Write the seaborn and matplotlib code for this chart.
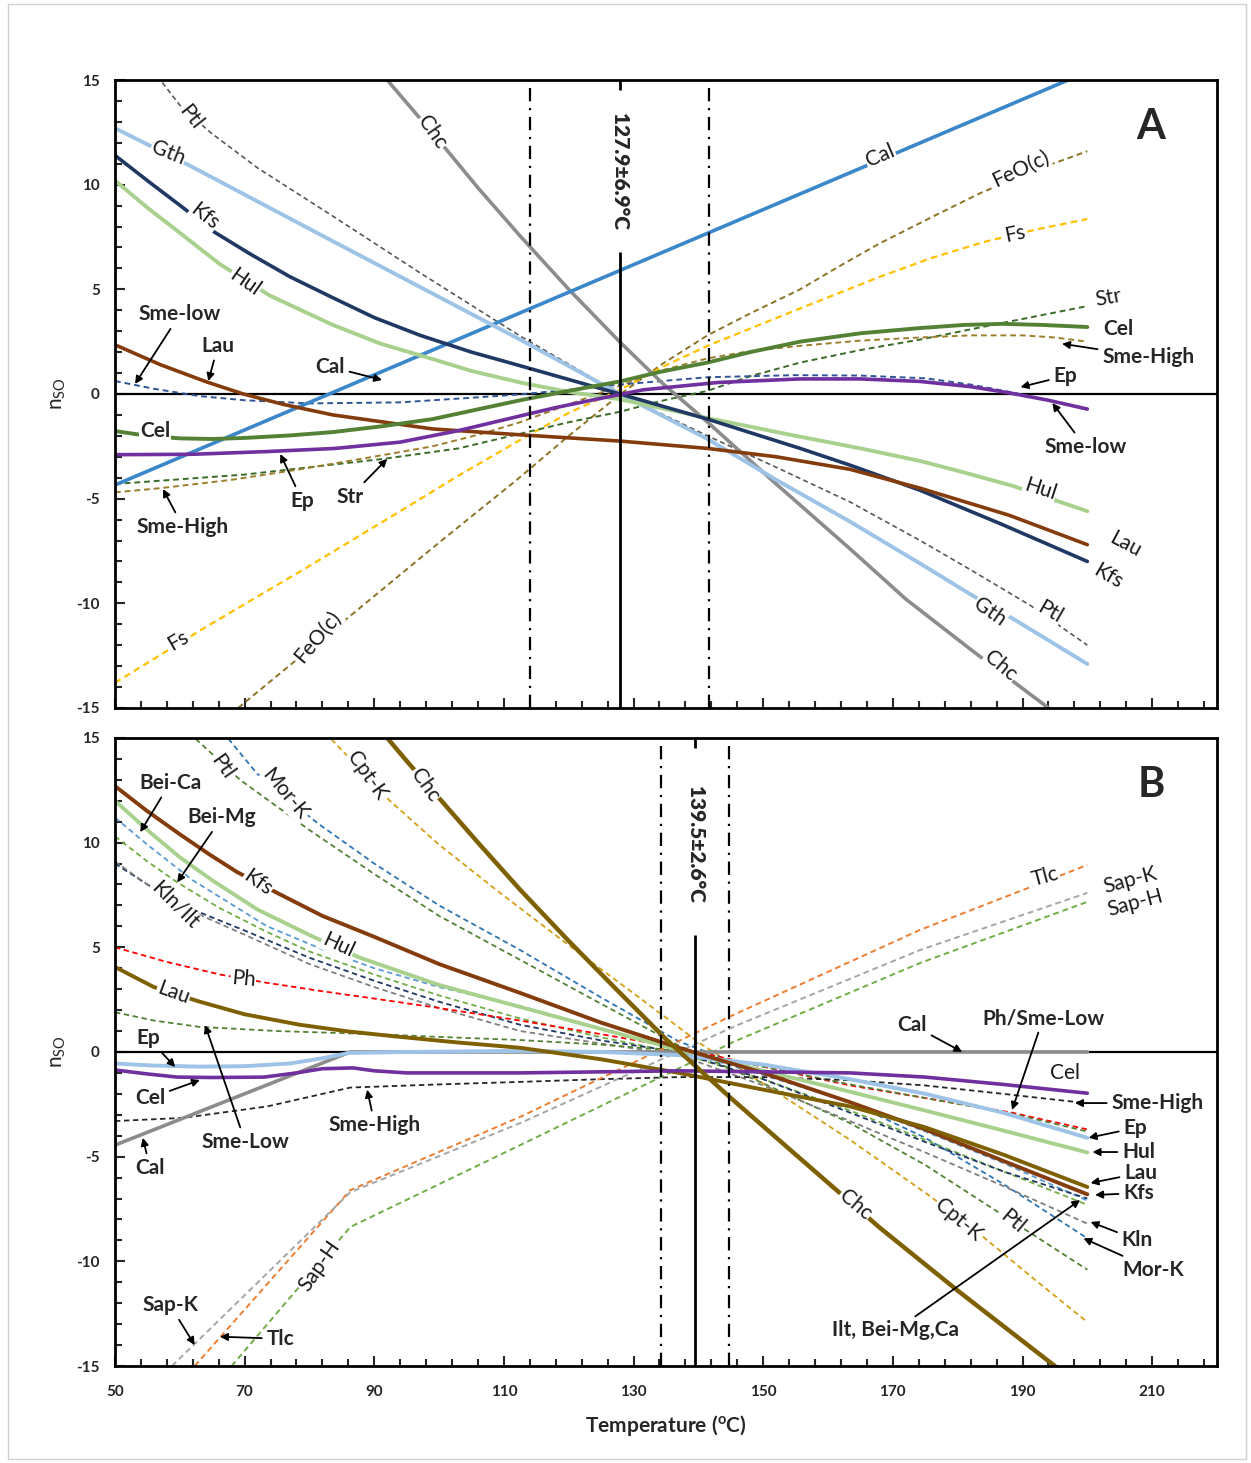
import matplotlib
matplotlib.use('Agg')
import matplotlib.pyplot as plt
from matplotlib.ticker import FixedLocator, MultipleLocator
from matplotlib.patches import Rectangle
import numpy as np
import seaborn as sns

sns.set_style('white')
plt.rcParams['font.family'] = ['Lato', 'DejaVu Sans']
plt.rcParams['axes.unicode_minus'] = False

# ---------------- panel A : (temperature, n_SO) ----------------
a_cal = ([50, 200], [-4.35, 15.39])
a_chc = ([90, 92, 100, 106, 112.5, 120, 127.9, 134.5, 141.4, 152, 163.4, 172, 182.4, 194, 200],
         [15.7, 15, 12.1, 9.85, 7.55, 5.0, 2.48, 0.5, -1.34, -4.3, -7.4, -9.8, -12.3, -15, -16.4])
a_ptl = ([55, 57, 60, 64.7, 72, 83.6, 97, 112.5, 127.9, 141.4, 152, 163.4, 174.2, 182, 191.2, 200],
         [16.3, 15, 13.8, 12.5, 10.8, 8.5, 5.8, 2.77, 0, -2.0, -3.5, -5.16, -7.0, -8.4, -10.1, -12.0])
a_gth = ([50, 61.6, 83.6, 112.5, 127.9, 141.4, 152, 163.4, 174.2, 182.4, 188.6, 200],
         [12.7, 10.9, 7.3, 2.6, 0, -2.15, -4.1, -6.1, -8.1, -9.65, -10.75, -12.9])
a_kfs = ([50, 55.4, 60.5, 65, 70.8, 77, 83.6, 90, 97.1, 105, 112.5, 127.9, 141.4, 155.7, 163.4, 174.2, 186.6, 200],
         [11.4, 10.1, 8.9, 7.8, 6.7, 5.6, 4.6, 3.65, 2.8, 2.0, 1.35, 0, -1.2, -2.6, -3.4, -4.6, -6.2, -8.0])
a_hul = ([50, 55, 60, 66.2, 73.9, 83.6, 91, 99, 105, 112.5, 120, 127.9, 141.4, 155, 165, 174.2, 181, 188.6, 200],
         [10.2, 8.9, 7.7, 6.2, 4.7, 3.3, 2.4, 1.67, 1.1, 0.55, 0.1, -0.25, -1.15, -2.0, -2.6, -3.2, -3.75, -4.4, -5.6])
a_lau = ([50, 57, 64.2, 69.8, 76, 83.6, 99, 112.5, 127.9, 141.4, 152, 163.4, 174.2, 188, 200],
         [2.35, 1.4, 0.57, 0, -0.5, -1.0, -1.67, -1.95, -2.25, -2.6, -3.0, -3.6, -4.5, -5.8, -7.2])
a_smelow = ([50, 56, 63, 70, 80, 94, 104, 112.5, 120, 127.9, 141.4, 155, 165, 175, 182, 188, 194, 200],
            [0.62, 0.25, -0.1, -0.3, -0.45, -0.4, -0.2, -0.02, 0.2, 0.45, 0.8, 0.9, 0.88, 0.75, 0.45, 0.1, -0.3, -0.75])
a_ep = ([50, 62, 73.5, 84, 94, 103, 112.5, 118, 123, 131.5, 143, 155.7, 165, 174.2, 182, 188, 194, 200],
        [-2.9, -2.88, -2.75, -2.6, -2.3, -1.75, -1.05, -0.65, -0.33, 0.2, 0.55, 0.72, 0.72, 0.6, 0.35, 0.05, -0.3, -0.72])
a_cel = ([50, 55, 60, 65, 70, 77, 83.6, 91, 99, 105, 112.5, 120, 127.9, 134, 141.4, 148, 155.7, 165, 174.2, 181, 187, 193, 200],
         [-1.77, -2.0, -2.12, -2.15, -2.1, -1.98, -1.82, -1.55, -1.2, -0.8, -0.3, 0.15, 0.6, 1.05, 1.5, 2.0, 2.5, 2.9, 3.15, 3.3, 3.35, 3.3, 3.2])
a_smehigh = ([50, 57, 68, 78.5, 88, 99, 106, 112.5, 120, 127.9, 134, 141.4, 148, 155.7, 165, 174.2, 182, 190, 195, 200],
             [-4.7, -4.5, -4.1, -3.6, -3.1, -2.5, -1.95, -1.35, -0.5, 0.4, 1.1, 1.7, 2.05, 2.3, 2.55, 2.7, 2.8, 2.8, 2.7, 2.5])
a_str = ([50, 70, 91.4, 103, 112.5, 120, 127.9, 134, 141.4, 148, 155.7, 165, 174.2, 187, 200],
         [-4.3, -3.85, -3.1, -2.6, -1.9, -1.35, -0.85, -0.35, 0.15, 0.85, 1.5, 2.1, 2.6, 3.4, 4.2])
a_feo = ([69, 78, 86.3, 100, 112, 120, 128, 134.5, 141.4, 148, 155.7, 162, 168, 176, 183.5, 192, 200],
         [-15, -12.7, -10.6, -7.1, -4.1, -2.0, 0, 1.45, 2.8, 3.85, 5.0, 6.15, 7.2, 8.45, 9.6, 10.7, 11.6])
a_fs = ([50, 64.2, 79, 94, 103, 112.5, 120, 127.9, 134.5, 141.4, 155, 168, 176, 184, 192, 200],
        [-13.8, -11.1, -8.4, -5.6, -3.9, -2.2, -0.9, 0.2, 1.3, 2.3, 4.0, 5.6, 6.5, 7.26, 7.85, 8.36])

# ---------------- panel B ----------------
b_chc = ([90, 92, 95, 101.2, 106, 112.5, 120, 127, 135.2, 145, 155, 168, 180, 195.4, 200],
         [15.8, 15, 13.9, 11.7, 10.0, 7.75, 5.3, 3.1, 0.55, -2.2, -4.9, -8.4, -11.4, -15.1, -16.2])
b_cptk = ([80, 83.2, 92.4, 100, 109.4, 120, 130, 140.3, 152, 163.4, 175.8, 184, 192, 200],
          [16.3, 15, 12.0, 9.9, 7.6, 5.1, 2.8, 0.4, -1.9, -4.2, -6.9, -8.85, -10.9, -12.9])
b_mork = ([65, 67.4, 71.9, 81.2, 90, 100, 112.5, 125, 137, 150, 163.4, 175, 187, 200],
          [16.0, 15, 13.3, 10.94, 9.0, 7.0, 4.87, 2.6, 0.5, -1.0, -2.4, -4.1, -6.3, -8.9])
b_ptl = ([60, 62.3, 69.3, 80, 90, 100, 112.5, 125, 137, 150, 163.4, 175, 187, 200],
         [16.0, 15, 13.0, 10.6, 8.5, 6.5, 4.4, 2.3, 0.3, -1.5, -3.4, -5.4, -7.8, -10.4])
b_kfs = ([50, 55, 60, 64.5, 68.8, 75, 82, 90, 100, 112.5, 125, 137, 150, 163.4, 175, 187, 200],
         [12.7, 11.5, 10.4, 9.45, 8.6, 7.6, 6.5, 5.5, 4.2, 2.82, 1.4, 0.2, -1.0, -2.4, -3.7, -5.2, -6.8])
b_hul = ([50, 55, 60, 65, 72, 80.6, 87.8, 100, 112.5, 125, 137, 150, 163.4, 175, 187, 200],
         [12.0, 10.6, 9.3, 8.2, 6.8, 5.5, 4.5, 3.2, 2.15, 1.1, 0.1, -0.9, -1.9, -2.8, -3.75, -4.8])
b_beica = ([50, 55, 62, 73.5, 82, 90, 100, 112.5, 125, 137, 150, 163.4, 175, 187, 200],
           [11.2, 9.9, 8.2, 6.0, 4.9, 4.0, 3.1, 2.2, 1.1, 0.1, -1.1, -2.4, -3.8, -5.3, -7.1])
b_beimg = ([50, 55, 59.6, 66, 73, 80, 90, 100, 112.5, 125, 137, 150, 163.4, 175, 187, 200],
           [10.3, 9.1, 8.1, 6.9, 5.8, 4.8, 3.7, 2.7, 1.6, 0.7, -0.05, -1.3, -2.8, -4.2, -5.7, -7.3])
b_ilt = ([50, 55, 62, 70, 80, 90, 100, 112.5, 125, 137, 150, 163.4, 175, 187, 200],
         [9.0, 8.0, 6.8, 5.8, 4.5, 3.4, 2.4, 1.3, 0.55, 0.0, -1.3, -2.9, -4.3, -5.7, -7.0])
b_kln = ([50, 55, 62, 70, 80, 90, 100, 112.5, 125, 137, 150, 163.4, 175, 187, 200],
         [9.1, 8.0, 6.7, 5.6, 4.2, 3.1, 2.1, 1.0, 0.4, -0.15, -1.6, -3.3, -4.8, -6.4, -8.2])
b_ph = ([50, 58, 66.2, 73.5, 82, 90, 100, 112.5, 125, 137, 150, 163.4, 175, 188.4, 200],
        [5.0, 4.3, 3.7, 3.3, 2.9, 2.55, 2.1, 1.5, 0.85, 0.2, -0.7, -1.6, -2.2, -2.9, -3.7])
b_smelow = ([50, 56, 63, 75, 90, 100, 112.5, 125, 137, 150, 163.4, 175, 188.4, 200],
            [1.9, 1.5, 1.2, 1.0, 0.85, 0.72, 0.57, 0.35, 0.05, -0.7, -1.55, -2.2, -2.95, -3.8])
b_lau = ([50, 56, 63.1, 70, 78.5, 86, 94, 103, 112.5, 125, 137, 150, 163.4, 175, 187, 200],
         [4.06, 3.1, 2.4, 1.8, 1.3, 0.98, 0.72, 0.45, 0.2, -0.35, -1.0, -1.8, -2.6, -3.6, -4.9, -6.45])
b_ep = ([50, 56, 63, 70, 77, 82, 86, 95, 112.5, 125, 137, 150, 163.4, 175, 187, 200],
        [-0.55, -0.65, -0.7, -0.68, -0.55, -0.3, -0.05, 0.0, 0.05, 0.0, -0.15, -0.6, -1.3, -2.0, -2.9, -4.1])
b_cel = ([50, 55, 59.6, 65, 73, 78, 82, 86.7, 90, 95, 112.5, 137, 163.4, 175, 187, 200],
         [-0.86, -1.05, -1.2, -1.22, -1.2, -1.0, -0.8, -0.76, -0.9, -1.0, -1.0, -0.9, -1.0, -1.2, -1.55, -1.97])
b_smehigh = ([50, 60.5, 73.5, 86.3, 100, 112.5, 125, 137, 150, 163.4, 175, 187, 200],
             [-3.3, -3.15, -2.6, -1.7, -1.55, -1.43, -1.3, -1.2, -1.2, -1.35, -1.6, -2.0, -2.45])
b_cal = ([50, 86.3, 200], [-4.45, 0, 0])
b_tlc = ([62.3, 86.3, 112.5, 145.4, 174.2, 200], [-15, -6.6, -3.1, 1.77, 5.83, 8.93])
b_sapk = ([58.8, 86.3, 112.5, 145.4, 174.2, 200], [-15, -6.7, -3.4, 1.2, 4.87, 7.6])
b_saph = ([68, 86.3, 112.5, 145.4, 174.2, 200], [-15, -8.36, -4.45, 0.48, 4.25, 7.17])

# estimated temperatures (mean, sigma); dash-dot lines at 2 sigma
temp_a, sig_a = 127.9, 6.9
temp_b, sig_b = 139.5, 2.6

DASH = (0, (3, 2))
a_styles = [
    (a_feo, '#8C7425', 1.4, DASH), (a_fs, '#FFC000', 1.6, DASH),
    (a_str, '#3B6B28', 1.4, DASH), (a_smehigh, '#9C7E2A', 1.4, DASH),
    (a_ptl, '#595959', 1.2, DASH), (a_smelow, '#2F5597', 1.4, DASH),
    (a_chc, '#8C8C8C', 2.6, '-'), (a_cal, '#3A87C9', 2.6, '-'),
    (a_gth, '#9DC3E6', 2.8, '-'), (a_hul, '#A9D18E', 2.8, '-'),
    (a_kfs, '#203864', 2.6, '-'), (a_lau, '#843C0C', 2.6, '-'),
    (a_cel, '#548235', 2.8, '-'), (a_ep, '#7030A0', 2.6, '-'),
]
b_styles = [
    (b_cptk, '#D4A017', 1.3, DASH), (b_mork, '#2E75B6', 1.3, DASH),
    (b_ptl, '#548235', 1.3, DASH), (b_beica, '#5B9BD5', 1.3, DASH),
    (b_beimg, '#70AD47', 1.3, DASH), (b_ilt, '#203864', 1.3, DASH),
    (b_kln, '#7F7F7F', 1.3, DASH), (b_ph, '#FF0000', 1.3, DASH),
    (b_smelow, '#548235', 1.3, DASH), (b_smehigh, '#262626', 1.3, DASH),
    (b_tlc, '#ED7D31', 1.4, DASH), (b_sapk, '#A5A5A5', 1.4, DASH),
    (b_saph, '#70AD47', 1.4, DASH),
    (b_cal, '#8C8C8C', 2.6, '-'), (b_hul, '#A9D18E', 2.8, '-'),
    (b_ep, '#9DC3E6', 2.8, '-'), (b_kfs, '#843C0C', 2.8, '-'),
    (b_lau, '#7F6000', 2.8, '-'), (b_cel, '#7030A0', 2.6, '-'),
    (b_chc, '#7F6000', 3.2, '-'),
]

# inline labels: text, T, n, rotation
a_inline = [('Ptl', 61.6, 13.2, -52), ('Gth', 58.2, 11.5, -22), ('Kfs', 63.9, 8.5, -38),
            ('Hul', 70.1, 5.35, -35), ('Chc', 98.9, 12.5, -55), ('Cal', 168, 11.4, 23),
            ('FeO(c)', 189.7, 10.75, 25), ('Fs', 188.9, 7.65, 12), ('Str', 203.2, 4.6, 10),
            ('Hul', 192.7, -4.54, -18), ('Lau', 205.9, -7.17, -28), ('Kfs', 203.2, -8.7, -30),
            ('Ptl', 194.3, -10.4, -30), ('Gth', 185, -10.4, -35), ('Chc', 186.6, -13.0, -40),
            ('Fs', 59.7, -11.8, 30), ('FeO(c)', 81.3, -11.6, 50)]
a_bold = [('Cel', 56.2, -1.77), ('Cel', 204.8, 3.1)]
a_arrows = [('Sme-High', 209.4, 1.77, 196.1, 2.4), ('Ep', 196.6, 0.86, 189.7, 0.33),
            ('Sme-low', 199.7, -2.53, 194.6, -0.43), ('Sme-low', 60, 3.8, 53.1, 0.48),
            ('Lau', 65.9, 2.3, 64.4, 0.62), ('Cal', 83.2, 1.3, 91.2, 0.67),
            ('Ep', 78.9, -5.1, 75.5, -2.87), ('Str', 86.3, -4.9, 92, -3.1),
            ('Sme-High', 60.5, -6.35, 57.4, -4.54)]

b_inline = [('Kfs', 72.1, 8.1, -35), ('Hul', 84.4, 5.1, -25), ('Kln/Ilt', 59.3, 7.0, -45),
            ('Ph', 69.8, 3.5, -5), ('Lau', 59, 2.8, -20), ('Ptl', 66.5, 13.6, -55),
            ('Mor-K', 76.2, 12.3, -50), ('Cpt-K', 88.9, 13.2, -55), ('Chc', 97.8, 12.75, -55),
            ('Sap-H', 81.6, -10.2, 55), ('Chc', 164.2, -7.3, -40), ('Cpt-K', 180.1, -8.0, -40),
            ('Ptl', 188.4, -8.1, -40), ('Tlc', 193.5, 8.36, 15), ('Sap-K', 206.6, 8.2, 15),
            ('Sap-H', 207.4, 7.1, 15), ('Cel', 196.6, -1.0, 0)]
b_arrows = [('Bei-Ca', 58.5, 12.85, 53.9, 10.5), ('Bei-Mg', 66.5, 11.2, 59.6, 8.1),
            ('Ep', 55.1, 0.67, 59.3, -0.72), ('Cel', 55.4, -2.2, 63.1, -1.34),
            ('Sme-Low', 70.1, -4.3, 63.9, 1.29), ('Cal', 55.4, -5.54, 54.3, -4.1),
            ('Sme-High', 90.1, -3.5, 88.9, -1.8), ('Sap-K', 58.5, -12.1, 62.3, -14.0),
            ('Tlc', 75.5, -13.7, 66.2, -13.6), ('Cal', 173, 1.29, 180.7, 0.0),
            ('Ph/Sme-Low', 193.2, 1.62, 188.4, -2.77), ('Sme-High', 210.8, -2.44, 198.1, -2.44),
            ('Ep', 207.4, -3.63, 200.2, -4.1), ('Hul', 207.9, -4.78, 200.8, -4.78),
            ('Lau', 208.2, -5.78, 200.5, -6.26), ('Kfs', 207.9, -6.74, 201.2, -6.83),
            ('Kln', 207.7, -8.98, 200.5, -8.12), ('Mor-K', 210.2, -10.4, 199.4, -8.9),
            ('Ilt, Bei-Mg,Ca', 170.4, -13.3, 198.9, -7.07)]

LABEL_FS = 15


def draw_panel(ax, styles, inline, bold, arrows, temp, sig, txt_n, line_top, letter):
    ax.axhline(0, color='black', lw=1.6, zorder=1)
    for (t, n), color, lw, ls in styles:
        sns.lineplot(x=t, y=n, ax=ax, color=color, lw=lw, linestyle=ls,
                     sort=False, estimator=None, zorder=2)
    # temperature estimate and its 2-sigma range
    ax.vlines(temp, -15, line_top, color='black', lw=2.0, zorder=3)
    ax.vlines(temp, 14.5, 15, color='black', lw=2.0, zorder=3)
    for tx in (temp - 2 * sig, temp + 2 * sig):
        ax.axvline(tx, color='black', lw=1.6, linestyle=(0, (6, 3, 1, 3)), zorder=3)
    ax.text(temp, txt_n, '%.1f\u00b1%.1f\u00b0C' % (temp, sig), rotation=-90,
            ha='center', va='center', fontsize=15, fontweight='heavy', zorder=4)
    for s, x, y, r in inline:
        ax.text(x, y, s, rotation=r, rotation_mode='anchor', ha='center', va='center',
                fontsize=LABEL_FS, color='#1a1a1a', zorder=5,
                bbox=dict(fc='white', ec='none', pad=0.6))
    for s, x, y in bold:
        ax.text(x, y, s, ha='center', va='center', fontsize=LABEL_FS, fontweight='bold',
                zorder=5, bbox=dict(fc='white', ec='none', pad=0.6))
    for s, x, y, tx, ty in arrows:
        ax.annotate(s, xy=(tx, ty), xytext=(x, y), ha='center', va='center',
                    fontsize=LABEL_FS, fontweight='bold', zorder=5,
                    arrowprops=dict(arrowstyle='-|>', color='black', lw=1.3,
                                    mutation_scale=11, shrinkA=1, shrinkB=0))
    ax.text(0.94, 0.925, letter, transform=ax.transAxes, ha='center', va='center',
            fontsize=30, fontweight='bold')

    ax.set_xlim(50, 220)
    ax.set_ylim(-15, 15)
    ax.xaxis.set_major_locator(FixedLocator(np.arange(50, 211, 20)))
    ax.xaxis.set_minor_locator(FixedLocator(np.arange(50, 221, 4)))
    ax.yaxis.set_major_locator(MultipleLocator(5))
    ax.yaxis.set_minor_locator(MultipleLocator(1))
    ax.tick_params(which='both', direction='in', bottom=True, left=True, top=False, right=False,
                   width=1.5, labelsize=11)
    ax.tick_params(which='major', length=7)
    ax.tick_params(which='minor', length=5)
    ax.tick_params(axis='x', pad=14)
    ax.tick_params(axis='y', pad=11)
    for lab in ax.get_xticklabels() + ax.get_yticklabels():
        lab.set_fontweight('bold')
    for sp in ax.spines.values():
        sp.set_linewidth(2)
        sp.set_color('black')
    ax.set_ylabel('n$_{\\mathregular{SO}}$', fontsize=15, labelpad=6)


fig = plt.figure(figsize=(12.51, 14.63), dpi=100)
fig.patches.append(Rectangle((0.006, 0.003), 0.99, 0.994, transform=fig.transFigure,
                             fill=False, ec='#d0d0d0', lw=1))
ax_a = fig.add_axes([0.0919, 0.5161, 0.8809, 0.4292])
ax_b = fig.add_axes([0.0919, 0.0663, 0.8809, 0.4293])

draw_panel(ax_a, a_styles, a_inline, a_bold, a_arrows, temp_a, sig_a, 10.65, 6.8, 'A')
draw_panel(ax_b, b_styles, b_inline, [], b_arrows, temp_b, sig_b, 9.9, 5.6, 'B')
ax_a.tick_params(labelbottom=False)
ax_a.set_xlabel('')
ax_b.set_xlabel('Temperature ($\\mathregular{^o}$C)', fontsize=15, fontweight='bold', labelpad=10)

fig.savefig('out.png', dpi=100, facecolor='white')
